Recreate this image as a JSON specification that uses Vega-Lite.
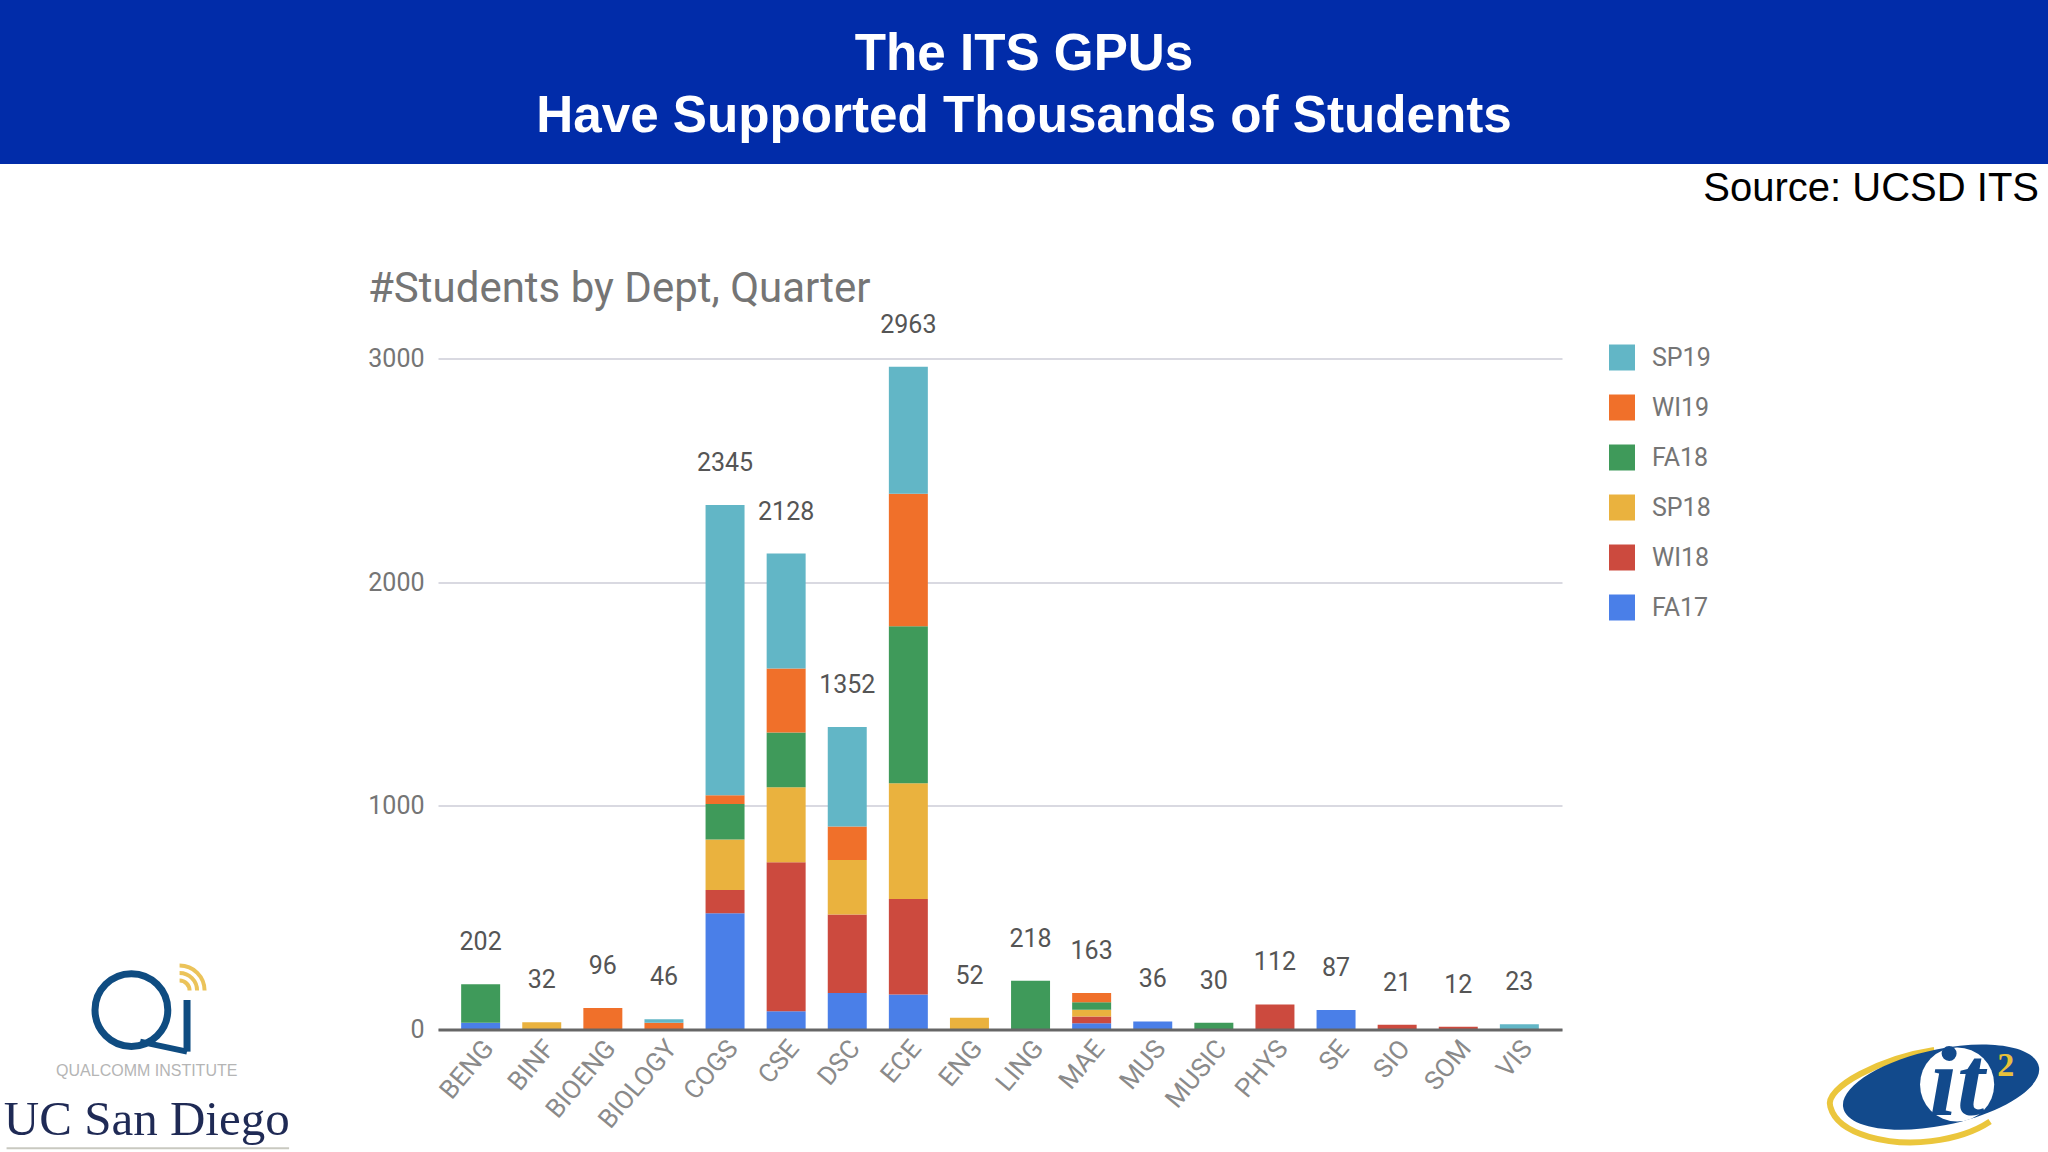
{
  "$schema": "https://vega.github.io/schema/vega-lite/v6.json",
  "background": "white",
  "padding": 0,
  "bounds": "flush",
  "spacing": 194.5,
  "config": {"view": {"stroke": null}},
  "datasets": {
    "students": [
      {"dept": "BENG", "quarter": "FA17", "seq": 1, "students": 30},
      {"dept": "BENG", "quarter": "FA18", "seq": 4, "students": 172},
      {"dept": "BINF", "quarter": "SP18", "seq": 3, "students": 32},
      {"dept": "BIOENG", "quarter": "WI19", "seq": 5, "students": 96},
      {"dept": "BIOLOGY", "quarter": "WI19", "seq": 5, "students": 30},
      {"dept": "BIOLOGY", "quarter": "SP19", "seq": 6, "students": 16},
      {"dept": "COGS", "quarter": "FA17", "seq": 1, "students": 520},
      {"dept": "COGS", "quarter": "WI18", "seq": 2, "students": 104},
      {"dept": "COGS", "quarter": "SP18", "seq": 3, "students": 225},
      {"dept": "COGS", "quarter": "FA18", "seq": 4, "students": 159},
      {"dept": "COGS", "quarter": "WI19", "seq": 5, "students": 39},
      {"dept": "COGS", "quarter": "SP19", "seq": 6, "students": 1298},
      {"dept": "CSE", "quarter": "FA17", "seq": 1, "students": 82},
      {"dept": "CSE", "quarter": "WI18", "seq": 2, "students": 666},
      {"dept": "CSE", "quarter": "SP18", "seq": 3, "students": 335},
      {"dept": "CSE", "quarter": "FA18", "seq": 4, "students": 245},
      {"dept": "CSE", "quarter": "WI19", "seq": 5, "students": 286},
      {"dept": "CSE", "quarter": "SP19", "seq": 6, "students": 514},
      {"dept": "DSC", "quarter": "FA17", "seq": 1, "students": 163},
      {"dept": "DSC", "quarter": "WI18", "seq": 2, "students": 351},
      {"dept": "DSC", "quarter": "SP18", "seq": 3, "students": 244},
      {"dept": "DSC", "quarter": "WI19", "seq": 5, "students": 150},
      {"dept": "DSC", "quarter": "SP19", "seq": 6, "students": 444},
      {"dept": "ECE", "quarter": "FA17", "seq": 1, "students": 156},
      {"dept": "ECE", "quarter": "WI18", "seq": 2, "students": 427},
      {"dept": "ECE", "quarter": "SP18", "seq": 3, "students": 518},
      {"dept": "ECE", "quarter": "FA18", "seq": 4, "students": 702},
      {"dept": "ECE", "quarter": "WI19", "seq": 5, "students": 592},
      {"dept": "ECE", "quarter": "SP19", "seq": 6, "students": 568},
      {"dept": "ENG", "quarter": "SP18", "seq": 3, "students": 52},
      {"dept": "LING", "quarter": "FA18", "seq": 4, "students": 218},
      {"dept": "MAE", "quarter": "FA17", "seq": 1, "students": 28},
      {"dept": "MAE", "quarter": "WI18", "seq": 2, "students": 30},
      {"dept": "MAE", "quarter": "SP18", "seq": 3, "students": 30},
      {"dept": "MAE", "quarter": "FA18", "seq": 4, "students": 34},
      {"dept": "MAE", "quarter": "WI19", "seq": 5, "students": 41},
      {"dept": "MUS", "quarter": "FA17", "seq": 1, "students": 36},
      {"dept": "MUSIC", "quarter": "FA18", "seq": 4, "students": 30},
      {"dept": "PHYS", "quarter": "WI18", "seq": 2, "students": 112},
      {"dept": "SE", "quarter": "FA17", "seq": 1, "students": 87},
      {"dept": "SIO", "quarter": "WI18", "seq": 2, "students": 21},
      {"dept": "SOM", "quarter": "WI18", "seq": 2, "students": 12},
      {"dept": "VIS", "quarter": "SP19", "seq": 6, "students": 23}
    ]
  },
  "vconcat": [
    {
      "width": 2048,
      "height": 164,
      "view": {"fill": "#012CA9"},
      "data": {"values": [
        {"line": 1, "text": "The ITS GPUs"},
        {"line": 2, "text": "Have Supported Thousands of Students"}
      ]},
      "mark": {"type": "text", "font": "Liberation Sans", "fontWeight": "bold", "fontSize": 51.2, "color": "white", "baseline": "middle", "dy": 4},
      "encoding": {
        "y": {"field": "line", "type": "ordinal", "axis": null, "scale": {"type": "point", "padding": 0.82}},
        "text": {"field": "text"}
      }
    },
    {
      "bounds": "flush",
      "spacing": 0,
      "hconcat": [
        {
          "width": 438,
          "height": 671,
          "layer": [
            {
              "data": {"values": [{"part": "Q ring"}]},
              "mark": {"type": "point", "shape": "circle", "size": 5300, "filled": false, "stroke": "#0F4C81", "strokeWidth": 7, "opacity": 1},
              "encoding": {
                "x": {"datum": 30, "type": "quantitative", "scale": {"domain": [0, 100]}, "axis": null},
                "y": {"datum": 2.9, "type": "quantitative", "scale": {"domain": [0, 100]}, "axis": null}
              }
            },
            {
              "data": {"values": [{"part": "Q tail"}]},
              "mark": {"type": "rule", "stroke": "#0F4C81", "strokeWidth": 6},
              "encoding": {
                "x": {"datum": 32, "type": "quantitative"},
                "x2": {"datum": 42.7},
                "y": {"datum": -1.8, "type": "quantitative"},
                "y2": {"datum": -3.3}
              }
            },
            {
              "data": {"values": [{"part": "i stem"}]},
              "mark": {"type": "rule", "stroke": "#0F4C81", "strokeWidth": 7},
              "encoding": {
                "x": {"datum": 42.7, "type": "quantitative"},
                "y": {"datum": 4.4, "type": "quantitative"},
                "y2": {"datum": -3.3}
              }
            },
            {
              "data": {"values": [{"part": "signal"}]},
              "mark": {"type": "point", "shape": "M0,-.4A.4,.4 0 0 1 .4,0M0,-.7A.7,.7 0 0 1 .7,0M0,-1A1,1 0 0 1 1,0", "size": 2500, "filled": false, "stroke": "#EBC35A", "strokeWidth": 4, "opacity": 1},
              "encoding": {
                "x": {"datum": 41, "type": "quantitative"},
                "y": {"datum": 5.8, "type": "quantitative"}
              }
            },
            {
              "data": {"values": [{"label": "QUALCOMM INSTITUTE"}]},
              "mark": {"type": "text", "font": "Liberation Sans", "fontSize": 16, "color": "#B5B5B5"},
              "encoding": {
                "x": {"datum": 33.5, "type": "quantitative"},
                "y": {"datum": -6.2, "type": "quantitative"},
                "text": {"field": "label"}
              }
            },
            {
              "data": {"values": [{"label": "UC San Diego"}]},
              "mark": {"type": "text", "font": "Liberation Serif", "fontSize": 49, "color": "#1F2A55", "letterSpacing": -1},
              "encoding": {
                "x": {"datum": 33.5, "type": "quantitative"},
                "y": {"datum": -13.5, "type": "quantitative"},
                "text": {"field": "label"}
              }
            },
            {
              "data": {"values": [{"part": "logo underline"}]},
              "mark": {"type": "rule", "stroke": "#C9C9C0", "strokeWidth": 2},
              "encoding": {
                "x": {"datum": 1.5, "type": "quantitative"},
                "x2": {"datum": 66},
                "y": {"datum": -17.7, "type": "quantitative"}
              }
            }
          ]
        },
        {
          "width": 1124,
          "height": 671,
          "title": {
            "text": "#Students by Dept, Quarter",
            "anchor": "start",
            "frame": "group",
            "dx": -70,
            "offset": 2,
            "font": "Roboto",
            "fontSize": 42,
            "fontWeight": "normal",
            "color": "#757575"
          },
          "data": {"name": "students"},
          "encoding": {
            "x": {
              "field": "dept",
              "type": "nominal",
              "title": null,
              "scale": {"paddingInner": 0.362, "paddingOuter": 0.379},
              "axis": {
                "labelAngle": -50,
                "labelFont": "Roboto",
                "labelFontSize": 26,
                "labelColor": "#8A8A8A",
                "labelPadding": 14,
                "labelOffset": 8,
                "ticks": false,
                "domainColor": "#666666",
                "domainWidth": 3,
                "zindex": 1
              }
            }
          },
          "layer": [
            {
              "mark": {"type": "bar"},
              "encoding": {
                "y": {
                  "field": "students",
                  "type": "quantitative",
                  "stack": "zero",
                  "title": null,
                  "scale": {"domain": [0, 3000], "nice": false},
                  "axis": {
                    "values": [0, 1000, 2000, 3000],
                    "format": "d",
                    "labelFont": "Roboto",
                    "labelFontSize": 25,
                    "labelColor": "#757575",
                    "labelPadding": 14,
                    "ticks": false,
                    "domain": false,
                    "gridColor": "#D9D9E1",
                    "gridWidth": 2
                  }
                },
                "color": {
                  "field": "quarter",
                  "type": "nominal",
                  "title": null,
                  "scale": {
                    "domain": ["SP19", "WI19", "FA18", "SP18", "WI18", "FA17"],
                    "range": ["#62B6C6", "#F0702A", "#3F9A5A", "#EAB23E", "#CC4A3E", "#4A7FE8"]
                  },
                  "legend": {
                    "orient": "none",
                    "legendX": 1171,
                    "legendY": -14,
                    "symbolType": "square",
                    "symbolSize": 676,
                    "symbolStrokeWidth": 0,
                    "labelFont": "Roboto",
                    "labelFontSize": 25,
                    "labelColor": "#757575",
                    "labelOffset": 17,
                    "rowPadding": 24
                  }
                },
                "order": {"field": "seq", "type": "quantitative"}
              }
            },
            {
              "transform": [
                {"aggregate": [{"op": "sum", "field": "students", "as": "total"}], "groupby": ["dept"]}
              ],
              "mark": {"type": "text", "font": "Roboto", "fontSize": 25, "color": "#555555", "dy": -42},
              "encoding": {
                "y": {"field": "total", "type": "quantitative", "title": null},
                "text": {"field": "total", "type": "quantitative"}
              }
            }
          ]
        },
        {
          "width": 486,
          "height": 671,
          "title": {
            "text": "Source: UCSD ITS",
            "anchor": "end",
            "frame": "group",
            "dx": -9,
            "offset": 150,
            "font": "Liberation Sans",
            "fontSize": 40,
            "fontWeight": "normal",
            "color": "black"
          },
          "layer": [
            {
              "data": {"values": [{"part": "swoosh"}]},
              "mark": {"type": "point", "shape": "M-.07,-.38C-.6,-.3 -1.2,0 -1.13,.2C-1.05,.5 -.5,.6 -.1,.55C.15,.52 .35,.45 .5,.35", "size": 38416, "filled": false, "stroke": "#EBC63C", "strokeWidth": 6, "opacity": 1},
              "encoding": {
                "x": {"datum": 78, "type": "quantitative", "scale": {"domain": [0, 100]}, "axis": null},
                "y": {"datum": -8.6, "type": "quantitative", "scale": {"domain": [0, 100]}, "axis": null}
              }
            },
            {
              "data": {"values": [{"part": "ellipse"}]},
              "mark": {"type": "point", "shape": "M-1,.2A1,.38 -12 1 1 1,-.2A1,.38 -12 1 1 -1,.2Z", "size": 38416, "filled": true, "fill": "#124A8C", "opacity": 1},
              "encoding": {
                "x": {"datum": 78, "type": "quantitative"},
                "y": {"datum": -8.6, "type": "quantitative"}
              }
            },
            {
              "data": {"values": [{"part": "disc"}]},
              "mark": {"type": "point", "shape": "circle", "size": 5500, "filled": true, "fill": "white", "opacity": 1},
              "encoding": {
                "x": {"datum": 81.3, "type": "quantitative"},
                "y": {"datum": -8.2, "type": "quantitative"}
              }
            },
            {
              "data": {"values": [{"label": "it"}]},
              "mark": {"type": "text", "font": "Liberation Serif", "fontStyle": "italic", "fontWeight": "bold", "fontSize": 100, "color": "#124A8C"},
              "encoding": {
                "x": {"datum": 81.3, "type": "quantitative"},
                "y": {"datum": -8.2, "type": "quantitative"},
                "text": {"field": "label"}
              }
            },
            {
              "data": {"values": [{"label": "2"}]},
              "mark": {"type": "text", "font": "Liberation Serif", "fontWeight": "bold", "fontSize": 34, "color": "#E8C13A"},
              "encoding": {
                "x": {"datum": 91.3, "type": "quantitative"},
                "y": {"datum": -5.4, "type": "quantitative"},
                "text": {"field": "label"}
              }
            }
          ]
        }
      ],
      "resolve": {"scale": {"x": "independent", "y": "independent", "color": "independent"}}
    }
  ]
}
